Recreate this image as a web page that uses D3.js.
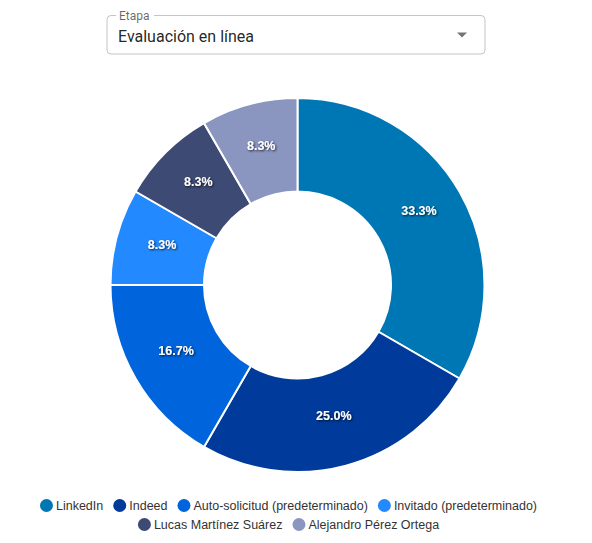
<!DOCTYPE html>
<html>
<head>
<meta charset="utf-8">
<script src="https://cdn.jsdelivr.net/npm/d3@7"></script>
<style>
  body { margin: 0; background: #fff; }
  svg { display: block; }
</style>
</head>
<body>
<div id="chart"></div>
<script>

// Data
var categories = ["LinkedIn", "Indeed", "Auto-solicitud (predeterminado)", "Invitado (predeterminado)", "Lucas Martínez Suárez", "Alejandro Pérez Ortega"];
var counts = [4, 3, 2, 1, 1, 1];
var colors = ["#0077b5", "#003a9b", "#0064dc", "#2389ff", "#3d4a74", "#8a95c0"];
var stageLabel = "Etapa";
var stageValue = "Evaluación en línea";

var width = 592, height = 543;
var cx = 297.5, cy = 285, outerR = 187, innerR = 93.5;

var svg = d3.select("#chart").append("svg")
    .attr("width", width)
    .attr("height", height);

// Dark shadow behind the slice labels
var defs = svg.append("defs");
var shadow = defs.append("filter")
    .attr("id", "shadow")
    .attr("x", "-20%").attr("y", "-40%")
    .attr("width", "140%").attr("height", "180%");
shadow.append("feDropShadow")
    .attr("dx", 1).attr("dy", 1)
    .attr("stdDeviation", 1)
    .attr("flood-color", "#000")
    .attr("flood-opacity", 0.8);

// Select box (outlined)
var sel = svg.append("g");

sel.append("path")
    .attr("d", "M116,15.5 H111 A4,4 0 0 0 107,19.5 V50 A4,4 0 0 0 111,54 H481 A4,4 0 0 0 485,50 V19.5 A4,4 0 0 0 481,15.5 H154")
    .attr("fill", "none")
    .attr("stroke", "#c4c4c4")
    .attr("stroke-width", 1);

sel.append("text")
    .attr("x", 119)
    .attr("y", 20)
    .style("font-family", "Roboto, sans-serif")
    .style("font-size", "12px")
    .style("fill", "rgba(0,0,0,0.6)")
    .text(stageLabel);

sel.append("text")
    .attr("x", 118)
    .attr("y", 41.5)
    .style("font-family", "Roboto, sans-serif")
    .style("font-size", "16px")
    .style("fill", "rgba(0,0,0,0.87)")
    .text(stageValue);

sel.append("path")
    .attr("d", "M457,32.5 L467,32.5 L462,37.5 Z")
    .attr("fill", "rgba(0,0,0,0.54)");

// Donut
var pie = d3.pie().sort(null).value(function(d) { return d; });
var arc = d3.arc().innerRadius(innerR).outerRadius(outerR);
var total = d3.sum(counts);

var g = svg.append("g")
    .attr("transform", "translate(" + cx + "," + cy + ")");

var slices = g.selectAll(".slice")
    .data(pie(counts))
    .enter().append("g")
    .attr("class", "slice");

slices.append("path")
    .attr("d", arc)
    .attr("fill", function(d, i) { return colors[i]; })
    .attr("stroke", "#fff")
    .attr("stroke-width", 2);

slices.append("text")
    .attr("transform", function(d) { return "translate(" + arc.centroid(d) + ")"; })
    .attr("text-anchor", "middle")
    .attr("filter", "url(#shadow)")
    .style("font-family", "Arial, 'Liberation Sans', sans-serif")
    .style("font-size", "12.5px")
    .style("font-weight", "bold")
    .style("fill", "#fff")
    .text(function(d) { return (d.value / total * 100).toFixed(1) + "%"; });

// Legend
var legend = svg.append("g");
var items = legend.selectAll(".legend")
    .data(categories)
    .enter().append("g")
    .attr("class", "legend");

items.append("circle")
    .attr("r", 6.5)
    .attr("cx", 6.5)
    .attr("cy", 0)
    .attr("fill", function(d, i) { return colors[i]; });

items.append("text")
    .attr("x", 16)
    .attr("dy", "0.35em")
    .style("font-family", "Arial, 'Liberation Sans', sans-serif")
    .style("font-size", "12.5px")
    .style("fill", "#333")
    .text(function(d) { return d; });

// Place legend items in centered rows
var maxRow = 520, gap = 10, rowH = 19, legendCenter = 288.5;
var rows = [[]], rowW = [0];
items.each(function(d, i) {
    var w = 16 + this.querySelector("text").getComputedTextLength();
    var r = rows.length - 1;
    var add = rows[r].length ? gap + w : w;
    if (rowW[r] + add > maxRow && rows[r].length) {
        rows.push([]); rowW.push(0); r++; add = w;
    }
    rows[r].push({node: this, w: w});
    rowW[r] += add;
});
rows.forEach(function(row, r) {
    var x = legendCenter - rowW[r] / 2;
    row.forEach(function(it) {
        d3.select(it.node).attr("transform", "translate(" + x + "," + (505.5 + r * rowH) + ")");
        x += it.w + gap;
    });
});

</script>
</body>
</html>
